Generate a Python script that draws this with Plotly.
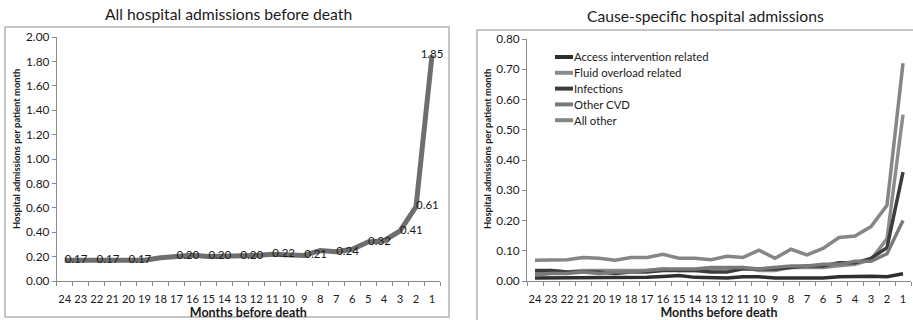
import plotly.graph_objects as go

# Months before death (x categories, shown 24 -> 1)
months = list(range(24, 0, -1))
month_labels = [str(m) for m in months]

# All hospital admissions per patient month
all_admissions = [0.17, 0.17, 0.17, 0.17, 0.17, 0.17, 0.19, 0.20, 0.21, 0.20, 0.20, 0.20,
                  0.21, 0.22, 0.22, 0.21, 0.25, 0.24, 0.26, 0.32, 0.33, 0.41, 0.61, 1.85]
# Months whose value is printed next to the point
labelled_months = [24, 22, 20, 17, 15, 13, 11, 9, 7, 5, 3, 2, 1]

# Cause-specific admissions per patient month
cause_names = ["Access intervention related", "Fluid overload related", "Infections",
               "Other CVD", "All other"]
access = [0.010, 0.010, 0.010, 0.012, 0.010, 0.010, 0.012, 0.012, 0.015, 0.018, 0.012, 0.010,
          0.010, 0.014, 0.014, 0.010, 0.010, 0.010, 0.010, 0.014, 0.016, 0.016, 0.014, 0.024]
fluid = [0.030, 0.035, 0.030, 0.035, 0.035, 0.035, 0.035, 0.035, 0.040, 0.035, 0.035, 0.040,
         0.042, 0.045, 0.035, 0.035, 0.045, 0.045, 0.045, 0.050, 0.055, 0.070, 0.140, 0.550]
infections = [0.035, 0.035, 0.030, 0.030, 0.030, 0.025, 0.030, 0.030, 0.035, 0.035, 0.035, 0.030,
              0.030, 0.040, 0.040, 0.040, 0.045, 0.050, 0.050, 0.060, 0.060, 0.075, 0.110, 0.360]
other_cvd = [0.020, 0.025, 0.025, 0.030, 0.025, 0.030, 0.030, 0.035, 0.040, 0.040, 0.040, 0.045,
             0.045, 0.045, 0.040, 0.045, 0.050, 0.050, 0.055, 0.055, 0.065, 0.065, 0.090, 0.200]
all_other = [0.069, 0.069, 0.070, 0.078, 0.075, 0.069, 0.078, 0.078, 0.088, 0.075, 0.075, 0.070,
             0.082, 0.078, 0.102, 0.075, 0.105, 0.086, 0.108, 0.144, 0.149, 0.180, 0.250, 0.720]
cause_series = [access, fluid, infections, other_cvd, all_other]
cause_colors = ["#2e2e2e", "#8c8c8c", "#3c3c3c", "#7a7a7a", "#868686"]

W, H = 913, 320
FONT = "Lato"
TXT = "#1a1a1a"


def px_x(v):
    return v / W


def px_y(v):
    return 1 - v / H


fig = go.Figure()

# Left panel: all admissions
label_text = [f"{v:.2f}" if m in labelled_months else "" for m, v in zip(months, all_admissions)]
label_pos = ["middle right"] * len(months)
label_pos[-1] = "middle center"
fig.add_trace(go.Scatter(
    x=months, y=all_admissions, mode="lines+text",
    line=dict(color="#6e6e6e", width=5),
    text=label_text, textposition=label_pos,
    textfont=dict(family=FONT, size=11.5, color=TXT),
    cliponaxis=False, showlegend=False, xaxis="x", yaxis="y"))

# Right panel: cause-specific admissions
for name, vals, col in zip(cause_names, cause_series, cause_colors):
    fig.add_trace(go.Scatter(
        x=months, y=vals, mode="lines", name=name,
        line=dict(color=col, width=3.5), showlegend=False,
        xaxis="x2", yaxis="y2"))

axis_common = dict(
    showline=True, linecolor="#8a8a8a", linewidth=1, showgrid=False, zeroline=False,
    ticks="outside", tickcolor="#8a8a8a", ticklen=4, automargin=False,
    tickfont=dict(family=FONT, size=11.8, color=TXT), mirror=False)

xaxis_common = dict(
    axis_common, range=[24.5, 0.5], tickvals=months, ticktext=month_labels, ticks="",
    tickangle=0, ticklabelstandoff=8, tickfont=dict(family=FONT, size=11.2, color=TXT),
    minor=dict(tickvals=[m + 0.5 for m in range(0, 25)], ticks="outside", ticklen=4,
               tickcolor="#8a8a8a"),
    title=dict(text="<b>Months before death</b>", font=dict(family=FONT, size=12.5, color=TXT),
               standoff=3))

# Legend drawn as short line samples with labels, one row per cause
legend_shapes = []
legend_notes = []
for i, (name, col) in enumerate(zip(cause_names, cause_colors)):
    yy = 57 + i * 15.8
    legend_shapes.append(dict(type="line", xref="paper", yref="paper",
                              x0=px_x(555), x1=px_x(573), y0=px_y(yy), y1=px_y(yy),
                              line=dict(color=col, width=4)))
    legend_notes.append(dict(text=name, xref="paper", yref="paper", x=px_x(572), y=px_y(yy),
                             xanchor="left", yanchor="middle", showarrow=False,
                             font=dict(family=FONT, size=11.3, color=TXT)))

ytitle_text = "<b>Hospital admissions per patient month</b>"
ytitle_notes = [
    dict(text=ytitle_text, xref="paper", yref="paper", x=px_x(xx), y=px_y(149),
         xanchor="center", yanchor="middle", textangle=-90, showarrow=False,
         font=dict(family=FONT, size=9.4, color=TXT))
    for xx in (16, 487)
]

fig.update_layout(
    width=W, height=H, margin=dict(l=0, r=0, t=0, b=0, autoexpand=False),
    paper_bgcolor="white", plot_bgcolor="white", showlegend=False,
    xaxis=dict(xaxis_common, domain=[px_x(56.7), px_x(440)], anchor="y"),
    yaxis=dict(axis_common, domain=[px_y(281), px_y(37)], range=[0, 2], dtick=0.2,
               tickformat=".2f", anchor="x"),
    xaxis2=dict(xaxis_common, domain=[px_x(527), px_x(911)], anchor="y2"),
    yaxis2=dict(axis_common, domain=[px_y(281), px_y(39)], range=[0, 0.8], dtick=0.1,
                tickformat=".2f", anchor="x2"),
    shapes=[
        dict(type="rect", xref="paper", yref="paper", x0=px_x(5), x1=px_x(449),
             y0=px_y(317), y1=px_y(27), line=dict(color="#b4b4b4", width=1.5)),
        dict(type="rect", xref="paper", yref="paper", x0=px_x(477), x1=px_x(915),
             y0=px_y(322), y1=px_y(30), line=dict(color="#b4b4b4", width=1.5)),
    ] + legend_shapes,
    annotations=[
        dict(text="All hospital admissions before death", xref="paper", yref="paper",
             x=px_x(228), y=px_y(14), xanchor="center", yanchor="middle", showarrow=False,
             font=dict(family=FONT, size=15.7, color=TXT)),
        dict(text="Cause-specific hospital admissions", xref="paper", yref="paper",
             x=px_x(705), y=px_y(16), xanchor="center", yanchor="middle", showarrow=False,
             font=dict(family=FONT, size=15.7, color=TXT)),
    ] + legend_notes + ytitle_notes,
)

fig.write_html("out.html")
